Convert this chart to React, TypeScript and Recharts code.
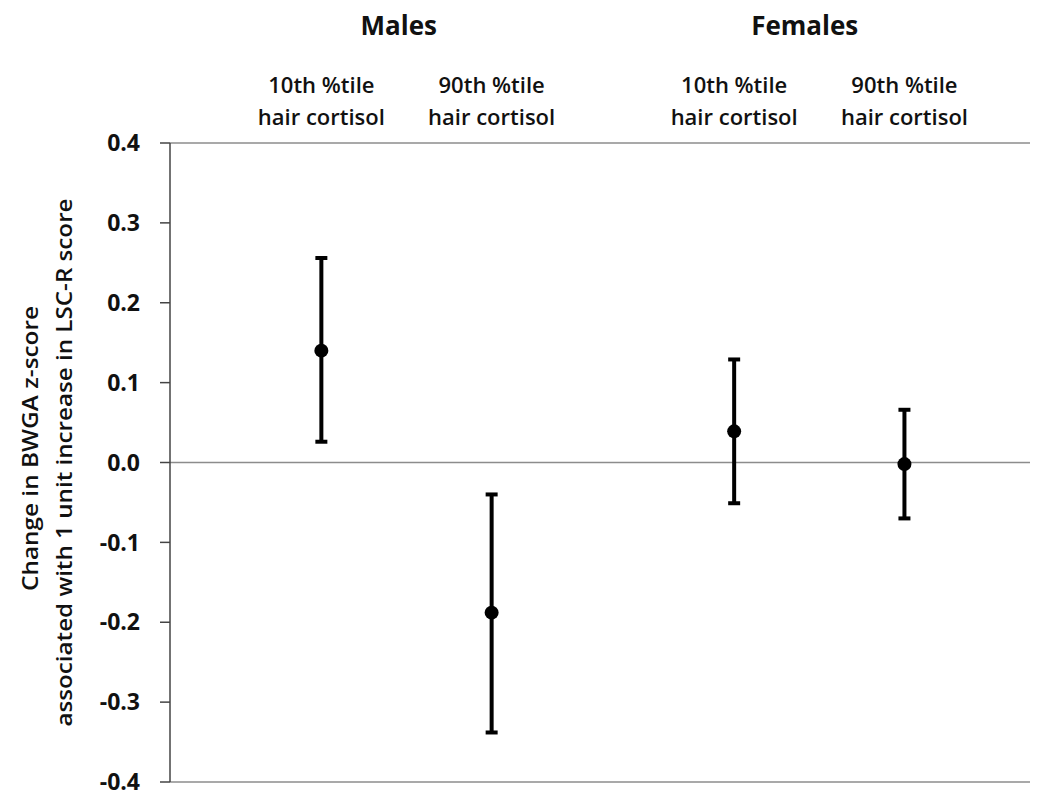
import { ScatterChart, Scatter, XAxis, YAxis, ErrorBar, ReferenceLine } from 'recharts';

const GROUPS = ['Males', 'Females'];
const GROUP_POS = [1.33, 3.69];
const SUB_TOP = ['10th %tile', '90th %tile', '10th %tile', '90th %tile'];
const SUB_BOTTOM = ['hair cortisol', 'hair cortisol', 'hair cortisol', 'hair cortisol'];
const X_POS = [0.88, 1.87, 3.28, 4.27];
const ESTIMATE = [0.14, -0.188, 0.039, -0.002];
const LOWER = [0.026, -0.338, -0.051, -0.07];
const UPPER = [0.256, -0.04, 0.129, 0.066];
const Y_TICKS = [-0.4, -0.3, -0.2, -0.1, 0, 0.1, 0.2, 0.3, 0.4];

const FONT = '"Open Sans", Lato, sans-serif';
const TEXT = '#111';

const data = X_POS.map((x, i) => ({
  x,
  y: ESTIMATE[i],
  err: [ESTIMATE[i] - LOWER[i], UPPER[i] - ESTIMATE[i]],
}));

// top axis carries both the group headers and the per-point labels
function TopTick(props: any) {
  const { x, y, payload } = props;
  const g = GROUP_POS.indexOf(payload.value);
  if (g >= 0) {
    return (
      <text x={x} y={y} dy={-108} textAnchor="middle" fill={TEXT} fontFamily={FONT} fontSize={26} fontWeight={700}>
        {GROUPS[g]}
      </text>
    );
  }
  const i = X_POS.indexOf(payload.value);
  return (
    <text x={x} y={y} textAnchor="middle" fill={TEXT} fontFamily={FONT} fontSize={22} fontWeight={600}>
      <tspan x={x} dy={-50}>{SUB_TOP[i]}</tspan>
      <tspan x={x} dy={32}>{SUB_BOTTOM[i]}</tspan>
    </text>
  );
}

function YTitle(props: any) {
  const { x, y, height } = props.viewBox;
  const cy = y + height / 2;
  const common = {
    textAnchor: 'middle' as const,
    fill: TEXT,
    fontFamily: FONT,
    fontSize: 21,
    fontWeight: 600,
    lengthAdjust: 'spacingAndGlyphs' as const,
  };
  return (
    <g>
      <text {...common} x={x + 38} y={cy - 14} textLength={285} transform={`rotate(-90, ${x + 38}, ${cy - 14})`}>
        Change in BWGA z-score
      </text>
      <text {...common} x={x + 72} y={cy} textLength={528} transform={`rotate(-90, ${x + 72}, ${cy})`}>
        associated with 1 unit increase in LSC-R score
      </text>
    </g>
  );
}

export default function App() {
  return (
    <div style={{ position: 'absolute', left: 0, top: 0, background: '#fff' }}>
      <ScatterChart width={1044} height={796} margin={{ top: 3, right: 14, bottom: 14, left: 0 }}>
        <XAxis
          xAxisId="top"
          dataKey="x"
          type="number"
          orientation="top"
          domain={[0, 5]}
          ticks={[...X_POS, ...GROUP_POS]}
          interval={0}
          height={140}
          axisLine={false}
          tickLine={false}
          tickSize={0}
          tickMargin={0}
          tick={<TopTick />}
        />
        <YAxis
          dataKey="y"
          type="number"
          domain={[-0.4, 0.4]}
          ticks={Y_TICKS}
          width={170}
          tickSize={10}
          tickMargin={20}
          axisLine={{ stroke: '#444', strokeWidth: 1.5 }}
          tickLine={{ stroke: '#444', strokeWidth: 1.5 }}
          tickFormatter={(v: number) => v.toFixed(1)}
          tick={{ fill: TEXT, fontFamily: FONT, fontSize: 23, fontWeight: 700 }}
          label={{ content: <YTitle /> }}
        />
        <ReferenceLine xAxisId="top" y={0.4} stroke="#8c8c8c" strokeWidth={1.5} />
        <ReferenceLine xAxisId="top" y={0} stroke="#8c8c8c" strokeWidth={1.5} />
        <ReferenceLine xAxisId="top" y={-0.4} stroke="#8c8c8c" strokeWidth={1.5} />
        <Scatter
          xAxisId="top"
          data={data}
          isAnimationActive={false}
          shape={(p: any) => <circle cx={p.cx} cy={p.cy} r={7} fill="#000" />}
        >
          <ErrorBar dataKey="err" direction="y" width={6} stroke="#000" strokeWidth={4} isAnimationActive={false} />
        </Scatter>
      </ScatterChart>
    </div>
  );
}
